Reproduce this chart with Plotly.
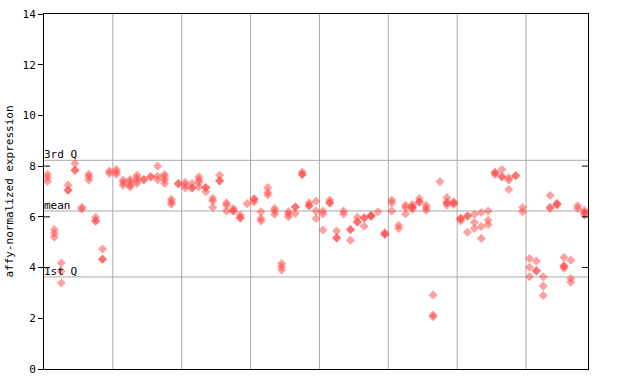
import plotly.graph_objects as go

# expression values per sample column (replicates)
sample_values = [
    # group 1
    [7.68, 7.55, 7.40], [5.50, 5.35, 5.20], [4.18, 3.85, 3.39], [7.25, 7.05, 7.05],
    [8.10, 7.84, 7.84], [6.38, 6.30], [7.68, 7.58, 7.45], [5.98, 5.84, 5.84],
    [4.73, 4.33, 4.33], [7.81, 7.71],
    # group 2
    [7.87, 7.77, 7.68], [7.45, 7.36, 7.25], [7.47, 7.38, 7.25, 7.18], [7.64, 7.54, 7.42, 7.32],
    [7.47, 7.47], [7.58, 7.58], [8.00, 7.60, 7.47], [7.67, 7.57, 7.45, 7.32],
    [6.69, 6.59, 6.50], [7.31, 7.31],
    # group 3
    [7.36, 7.25, 7.14], [7.31, 7.14, 7.14], [7.58, 7.47, 7.36, 7.18], [7.16, 7.16, 6.99],
    [6.73, 6.63, 6.37], [7.64, 7.42, 7.42], [6.55, 6.46, 6.23], [6.33, 6.23, 6.23],
    [6.07, 5.96, 5.96], [6.52],
    # group 4
    [6.70, 6.70, 6.59], [6.20, 5.94, 5.84], [7.16, 6.96, 6.86], [6.33, 6.23, 6.10],
    [4.16, 4.03, 3.90], [6.20, 6.10, 6.00], [6.39, 6.39, 6.13], [7.77, 7.67, 7.67],
    [6.55, 6.44, 6.44], [6.62, 6.23, 5.94],
    # group 5
    [6.23, 6.11, 5.48], [6.66, 6.55, 6.55], [5.44, 5.17, 5.17], [6.23, 6.11],
    [5.50, 5.50, 5.08], [5.98, 5.80, 5.80], [5.96, 5.96, 5.63], [6.07, 6.03, 6.03],
    [6.20], [5.38, 5.31, 5.31],
    # group 6
    [6.66, 6.55, 6.23], [5.67, 5.54], [6.46, 6.36, 6.11], [6.49, 6.39, 6.39, 6.30],
    [6.72, 6.59, 6.59], [6.46, 6.36, 6.26], [2.92, 2.13, 2.06], [7.39],
    [6.76, 6.57, 6.57, 6.46], [6.57, 6.57, 6.49],
    # group 7
    [5.94, 5.94, 5.84], [6.03, 6.03, 5.39], [6.10, 5.78, 5.54], [6.17, 5.62, 5.15],
    [6.23, 5.87, 5.70], [7.75, 7.75, 7.67], [7.87, 7.58, 7.58], [7.54, 7.45, 7.08],
    [7.62, 7.62], [6.37, 6.20],
    # group 8
    [4.36, 4.01, 3.64], [4.26, 3.87, 3.87], [3.64, 3.27, 2.90], [6.84, 6.39, 6.33],
    [6.52, 6.52, 6.46], [4.40, 4.06, 4.06, 3.97], [4.29, 3.57, 3.42], [6.44, 6.33],
    [6.26, 6.16, 6.16, 6.07],
]
group_sizes = [10, 10, 10, 10, 10, 10, 10, 9]

q1_value = 3.63
mean_value = 6.23
q3_value = 8.23
stat_labels = ["1st Q", "mean", "3rd Q"]
y_ticks = [0, 2, 4, 6, 8, 10, 12, 14]
y_title = "affy-normalized expression"

xs, ys = [], []
for i, vals in enumerate(sample_values):
    for v in vals:
        xs.append(i)
        ys.append(v)

boundaries = []
acc = 0
for s in group_sizes[:-1]:
    acc += s
    boundaries.append(acc - 0.5)

n = len(sample_values)
FONT = "DejaVu Sans Mono"
GRID = "#a9a9a9"

fig = go.Figure()
fig.add_trace(go.Scatter(
    x=xs, y=ys, mode="markers",
    marker=dict(symbol="diamond", size=7, color="#ff4444", opacity=0.5,
                line=dict(width=0)),
    hoverinfo="y", showlegend=False,
))

shapes = []
for b in boundaries:
    shapes.append(dict(type="line", xref="x", yref="y domain", x0=b, x1=b, y0=0, y1=1,
                       line=dict(color=GRID, width=1), layer="below"))
for v in (q1_value, mean_value, q3_value):
    shapes.append(dict(type="line", xref="x domain", yref="y", x0=0, x1=1, y0=v, y1=v,
                       line=dict(color=GRID, width=1), layer="below"))
# small inner ticks on both sides
for v in (4, 6, 8):
    shapes.append(dict(type="line", xref="x domain", yref="y", x0=0, x1=0.011, y0=v, y1=v,
                       line=dict(color="black", width=1)))
    shapes.append(dict(type="line", xref="x domain", yref="y", x0=0.989, x1=1, y0=v, y1=v,
                       line=dict(color="black", width=1)))

annotations = []
for lab, v in zip(stat_labels, (q1_value, mean_value, q3_value)):
    annotations.append(dict(x=0, xref="x domain", y=v, yref="y", text=lab, showarrow=False,
                            xanchor="left", yanchor="bottom", xshift=-2, yshift=-3,
                            font=dict(family=FONT, size=11, color="black")))

fig.update_layout(
    width=640, height=384,
    margin=dict(l=44, r=52, t=14, b=15, pad=0),
    paper_bgcolor="white", plot_bgcolor="white",
    shapes=shapes, annotations=annotations,
    font=dict(family=FONT, size=11, color="black"),
    xaxis=dict(range=[-0.5, n - 0.5], showticklabels=False, ticks="", showgrid=False,
               zeroline=False, showline=True, linecolor="black", linewidth=1, mirror=True,
               automargin=False),
    yaxis=dict(range=[0, 14], tickvals=y_ticks, ticktext=[str(t) for t in y_ticks],
               ticks="outside", ticklen=5, tickcolor="black", showgrid=False, zeroline=False,
               showline=True, linecolor="black", linewidth=1, mirror=True, automargin=False,
               title=dict(text=y_title, font=dict(family=FONT, size=11), standoff=6),
               tickfont=dict(family=FONT, size=11)),
)

fig.write_html("out.html",
               config={"displayModeBar": False},
               post_script="document.body.style.margin='0';document.body.style.overflow='hidden';")
